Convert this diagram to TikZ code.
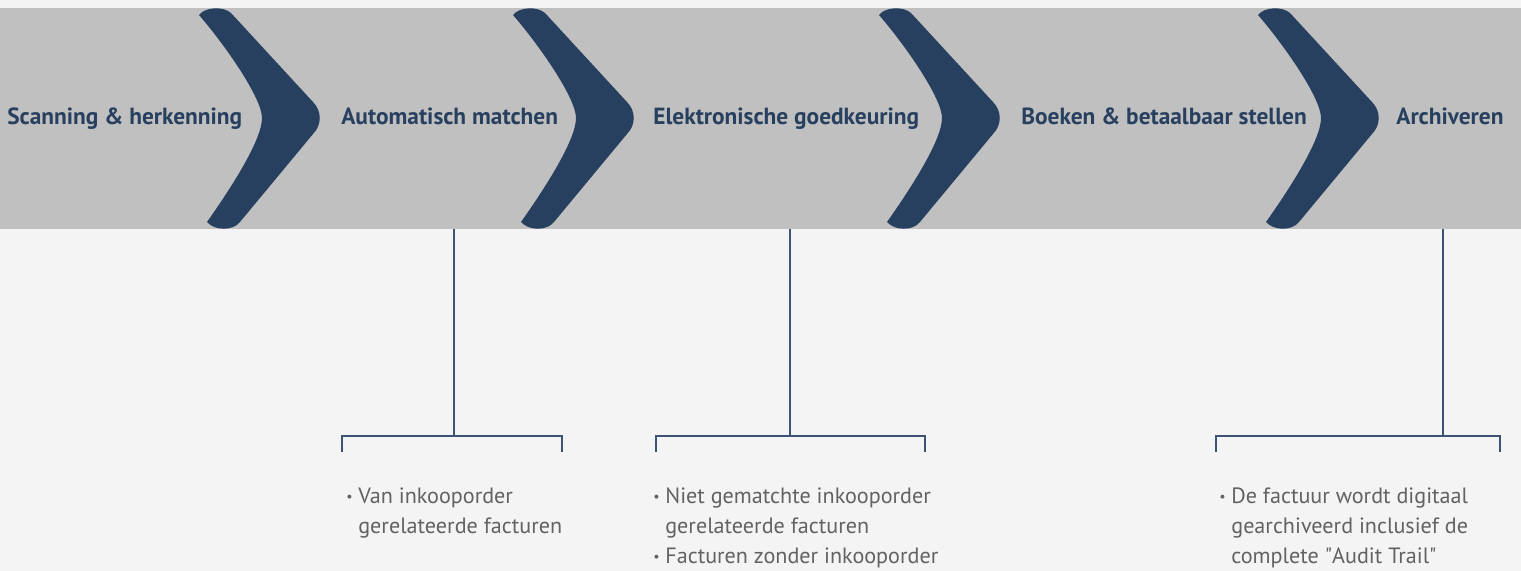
\documentclass[tikz,border=0pt]{standalone}
\usepackage{fontspec}
\setmainfont{PT Sans}
\newfontfamily\plainquote{PT Sans}
\usepackage{xcolor}

\definecolor{bgcol}{HTML}{F4F4F4}
\definecolor{bandcol}{HTML}{C0C0C0}
\definecolor{navy}{HTML}{28405F}
\definecolor{linecol}{HTML}{3E5373}
\definecolor{txtcol}{HTML}{626262}

\newcommand{\bul}{\makebox[0.24cm][l]{\raisebox{0.15ex}{\footnotesize\textbullet}}}
\newcommand{\nobul}{\hspace*{0.24cm}}
\newcommand{\dq}{{\plainquote"}}

\begin{document}
\begin{tikzpicture}[x=0.02cm,y=-0.02cm,
  step title/.style={anchor=base west, inner sep=0pt, text=navy,
    font=\fontsize{13.3}{16}\selectfont\bfseries},
  note/.style={anchor=base west, inner sep=0pt, text=txtcol,
    font=\fontsize{12.6}{17.2}\selectfont},
  bracket/.style={draw=linecol, line width=0.75pt}]

\useasboundingbox (0,0) rectangle (1521,571);
\fill[bgcol] (0,0) rectangle (1521,571);
\fill[bandcol] (0,8) rectangle (1521,229);

% chevrons between the steps
\foreach \t in {323,637,1003,1382}{
  \fill[navy, shift={(\t,0)}] (-61,118) .. controls (-61,98) and (-98,45) .. (-124,15)
    .. controls (-118,7) and (-100,6) .. (-92,13) -- (-10,102)
    .. controls (-1,111) and (-1,125) .. (-10,134) -- (-83,222)
    .. controls (-90,231) and (-108,231) .. (-116,222)
    .. controls (-92,188) and (-61,140) .. (-61,118) -- cycle;
}

\node[step title] (scan) at (7,125) {Scanning \& herkenning};
\node[step title] (match) at (341,125) {Automatisch matchen};
\node[step title] (approve) at (653,125) {Elektronische goedkeuring};
\node[step title] (book) at (1021,125) {Boeken \& betaalbaar stellen};
\node[step title] (archive) at (1396,125) {Archiveren};

% brackets
\coordinate (mtop) at (454,229);
\coordinate (mjoin) at (454,436);
\coordinate (mleft) at (342,452);
\coordinate (mright) at (562,452);
\draw[bracket] (mtop) -- (mjoin);
\draw[bracket] (mleft) |- (mjoin) -| (mright);

\coordinate (atop) at (790,229);
\coordinate (ajoin) at (790,436);
\coordinate (aleft) at (656,452);
\coordinate (aright) at (925,452);
\draw[bracket] (atop) -- (ajoin);
\draw[bracket] (aleft) |- (ajoin) -| (aright);

\coordinate (rtop) at (1443,229);
\coordinate (rjoin) at (1443,436);
\coordinate (rleft) at (1216,452);
\coordinate (rright) at (1500,452);
\draw[bracket] (rtop) -- (rjoin);
\draw[bracket] (rleft) |- (rjoin) -| (rright);

\node[note] (matchnote) at (346,503) {\begin{tabular}[t]{@{}l@{}}
  \bul Van inkooporder\\
  \nobul gerelateerde facturen
\end{tabular}};
\node[note] (approvenote) at (653,503) {\begin{tabular}[t]{@{}l@{}}
  \bul Niet gematchte inkooporder\\
  \nobul gerelateerde facturen\\
  \bul Facturen zonder inkooporder
\end{tabular}};
\node[note] (archivenote) at (1219,503) {\begin{tabular}[t]{@{}l@{}}
  \bul De factuur wordt digitaal\\
  \nobul gearchiveerd inclusief de\\
  \nobul complete \dq Audit Trail\dq
\end{tabular}};

\end{tikzpicture}
\end{document}
